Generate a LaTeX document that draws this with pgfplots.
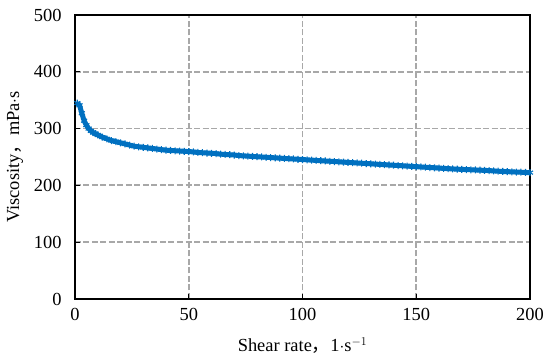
\documentclass[border=0pt]{standalone}
\usepackage{pgfplots}
\pgfplotsset{compat=1.18}
\usepackage{fontspec}
\setmainfont{Liberation Serif}
\newfontfamily\cjk{Noto Sans CJK SC}
\usetikzlibrary{calc}
\definecolor{lblue}{RGB}{0,112,192}
\definecolor{gridg}{RGB}{168,168,168}
\begin{document}
\begin{tikzpicture}
\begin{axis}[
  name=ax,
  scale only axis,
  width=455bp, height=284bp,
  xmin=0, xmax=200, ymin=0, ymax=500,
  xtick={0,50,100,150,200},
  ytick={0,100,200,300,400,500},
  tick align=inside,
  xtick pos=bottom, ytick pos=left,
  major tick length=5bp,
  axis line style={line width=1.3bp, black},
  tick style={line width=1.2bp, black},
  grid=major,
  major grid style={gridg, line width=1.8bp, dash pattern=on 6bp off 2.5bp},
  /pgf/number format/assume math mode=true,
  ticklabel style={font=\fontsize{18.5}{21}\selectfont},
  label style={font=\fontsize{18.5}{21}\selectfont},
  xlabel={Shear rate{\cjk ，}1$\cdot$s$^{-1}$},
  ylabel={Viscosity{\cjk ，}mPa$\cdot$s},
  xticklabel style={yshift=-6bp},
  yticklabel style={xshift=-10bp},
  xlabel style={yshift=-10bp},
  ylabel style={yshift=4bp},
]
\addplot[lblue, line width=5bp, mark=asterisk, mark size=3.5bp, mark options={line width=1.1bp}] coordinates {
(1,345) (2,341) (3,327) (4,314) (5,306) (6,300) (7,296) (8,293) (9,291) (10,289)
(12,285) (14,282) (16,279) (18,277) (20,275) (22,273) (24,271) (26,269) (28,268) (30,267)
(32,266) (34,265) (36,264) (38,263) (40,262) (42,261.5) (44,261) (46,260.5) (48,260) (50,259.5)
(52,259) (54,258) (56,257.5) (58,257) (60,256.5) (62,256) (64,255) (66,254.5) (68,254) (70,253.5)
(72,252.5) (74,252) (76,251.5) (78,251) (80,250.5) (82,250) (84,249.5) (86,249) (88,248.5) (90,248)
(92,247.5) (94,247) (96,246.5) (98,246) (100,245.5) (102,245) (104,244.5) (106,244) (108,243.5) (110,243)
(112,242.5) (114,242) (116,241.5) (118,241) (120,240.5) (122,240) (124,239.5) (126,239) (128,238.5) (130,238)
(132,237.5) (134,237) (136,236.5) (138,236) (140,235.5) (142,235) (144,234.5) (146,234) (148,233.5) (150,233)
(152,232.5) (154,232) (156,231.5) (158,231) (160,230.5) (162,230) (164,229.5) (166,229) (168,228.6) (170,228.2)
(172,227.8) (174,227.5) (176,227.2) (178,226.8) (180,226.5) (182,226) (184,225.5) (186,225) (188,224.6) (190,224.2)
(192,223.8) (194,223.5) (196,223.2) (198,222.8) (200,222.5)
};
\end{axis}
\pgfresetboundingbox
\path[use as bounding box] ($(ax.south west)+(-75bp,-65bp)$) rectangle ($(ax.north east)+(20bp,15bp)$);
\end{tikzpicture}
\end{document}
